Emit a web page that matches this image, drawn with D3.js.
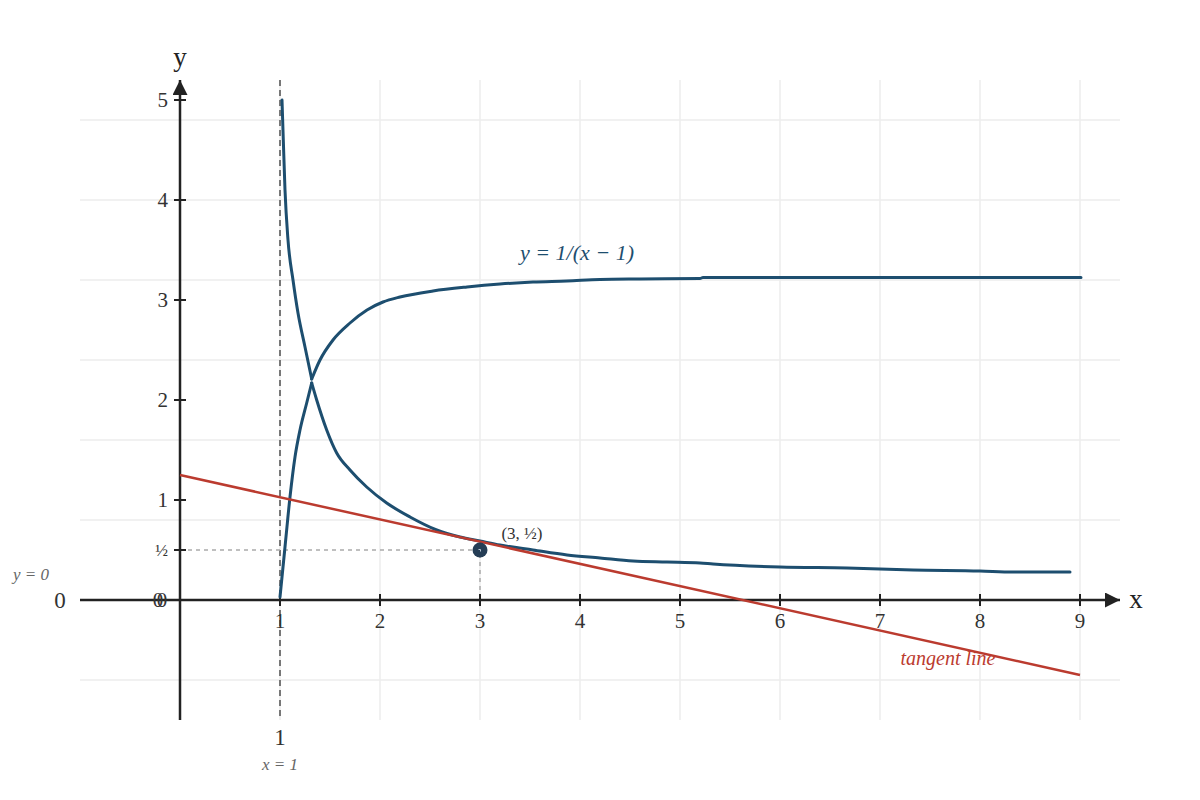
<!DOCTYPE html>
<html>
<head>
<meta charset="utf-8">
<script src="https://cdn.jsdelivr.net/npm/d3@7"></script>
<style>
  body { margin: 0; background: #fff; }
  svg { display: block; font-family: "Liberation Serif", "DejaVu Serif", serif; }
</style>
</head>
<body>
<script>
// Curve: comes down from near the asymptote, then turns up to ~3.22
const upperX = [1.02, 1.033, 1.05, 1.08, 1.13, 1.18, 1.25, 1.317, 1.40, 1.53, 1.70, 1.87, 2.03, 2.20, 2.53, 2.87, 3.20, 3.53, 3.87, 4.20, 4.60, 5.20, 5.23, 9.01];
const upperY = [5.0, 4.6, 4.1, 3.6, 3.2, 2.87, 2.53, 2.21, 2.40, 2.60, 2.77, 2.90, 2.98, 3.03, 3.09, 3.13, 3.16, 3.18, 3.19, 3.205, 3.21, 3.215, 3.225, 3.225];

// Curve that rises from (1, 0) and then decays towards ~0.28
const lowerX = [1.00, 1.05, 1.10, 1.15, 1.20, 1.267, 1.317, 1.367, 1.467, 1.567, 1.70, 1.867, 2.067, 2.30, 2.567, 2.80, 3.00, 3.20, 3.53, 3.87, 4.20, 4.53, 4.87, 5.20, 5.33, 6.00, 6.67, 7.33, 8.00, 8.33, 8.90];
const lowerY = [0.03, 0.53, 1.03, 1.43, 1.70, 1.97, 2.17, 2.00, 1.70, 1.47, 1.30, 1.13, 0.97, 0.83, 0.70, 0.63, 0.59, 0.55, 0.50, 0.45, 0.42, 0.39, 0.38, 0.37, 0.36, 0.33, 0.32, 0.30, 0.29, 0.28, 0.28];

// Tangent line end points
const tangentX = [0, 9];
const tangentY = [1.25, -0.75];

// Marked point
const pointX = 3;
const pointY = 0.5;

// Ticks and grid
const xTicks = [1, 2, 3, 4, 5, 6, 7, 8, 9];
const yTicks = [1, 2, 3, 4, 5];
const yTickLabels = ["1", "2", "3", "4", "5"];
const xGrid = [1, 2, 3, 4, 5, 6, 7, 8, 9];
const yGrid = [4.8, 4.0, 3.2, 2.4, 1.6, 0.8, -0.8];

const width = 1200;
const height = 800;

const svg = d3.select("body").append("svg")
  .attr("width", width)
  .attr("height", height);

const x = d3.scaleLinear().domain([-1, 9.4]).range([80, 1120]);
const y = d3.scaleLinear().domain([-1.2, 5.2]).range([720, 80]);

const blue = "#1d4e6f";
const red = "#bb3b2f";
const ink = "#222";

// Grid
svg.append("g").selectAll("line")
  .data(xGrid).enter().append("line")
  .attr("x1", d => x(d)).attr("x2", d => x(d))
  .attr("y1", y(5.2)).attr("y2", y(-1.2))
  .attr("stroke", "#ececec").attr("stroke-width", 1.5);

svg.append("g").selectAll("line")
  .data(yGrid).enter().append("line")
  .attr("x1", x(-1)).attr("x2", x(9.4))
  .attr("y1", d => y(d)).attr("y2", d => y(d))
  .attr("stroke", "#ececec").attr("stroke-width", 1.5);

// Vertical asymptote x = 1
svg.append("line")
  .attr("x1", x(1)).attr("x2", x(1))
  .attr("y1", y(5.2)).attr("y2", y(-1.2))
  .attr("stroke", "#777").attr("stroke-width", 2)
  .attr("stroke-dasharray", "6,4");

// Guides to the point (3, 1/2)
svg.append("path")
  .attr("d", `M${x(0)},${y(pointY)}H${x(pointX)}V${y(0)}`)
  .attr("fill", "none")
  .attr("stroke", "#aaa").attr("stroke-width", 1.5)
  .attr("stroke-dasharray", "4,4");

// Axes
svg.append("defs").append("marker")
  .attr("id", "arrow")
  .attr("viewBox", "0 0 10 10")
  .attr("refX", 10).attr("refY", 5)
  .attr("markerWidth", 6).attr("markerHeight", 6)
  .attr("markerUnits", "strokeWidth")
  .attr("orient", "auto")
  .append("path").attr("d", "M0,0L10,5L0,10Z").attr("fill", ink);

svg.append("line")
  .attr("x1", x(-1)).attr("x2", x(9.4))
  .attr("y1", y(0)).attr("y2", y(0))
  .attr("stroke", ink).attr("stroke-width", 2.5)
  .attr("marker-end", "url(#arrow)");

svg.append("line")
  .attr("x1", x(0)).attr("x2", x(0))
  .attr("y1", y(-1.2)).attr("y2", y(5.2))
  .attr("stroke", ink).attr("stroke-width", 2.5)
  .attr("marker-end", "url(#arrow)");

// Ticks on the x axis
const xt = svg.append("g").selectAll("g")
  .data(xTicks).enter().append("g")
  .attr("transform", d => `translate(${x(d)},${y(0)})`);
xt.append("line").attr("y1", -6).attr("y2", 6)
  .attr("stroke", ink).attr("stroke-width", 2);
xt.append("text").attr("y", 28)
  .attr("text-anchor", "middle")
  .attr("fill", "#333").style("font-size", "21px")
  .text(d => d);

// Ticks on the y axis
const yt = svg.append("g").selectAll("g")
  .data(yTicks).enter().append("g")
  .attr("transform", d => `translate(${x(0)},${y(d)})`);
yt.append("line").attr("x1", -6).attr("x2", 6)
  .attr("stroke", ink).attr("stroke-width", 2);
yt.append("text").attr("x", -12).attr("dy", "0.35em")
  .attr("text-anchor", "end")
  .attr("fill", "#333").style("font-size", "21px")
  .text((d, i) => yTickLabels[i]);

// Tick for 1/2
svg.append("line")
  .attr("x1", x(0) - 6).attr("x2", x(0) + 6)
  .attr("y1", y(pointY)).attr("y2", y(pointY))
  .attr("stroke", ink).attr("stroke-width", 2);
svg.append("text")
  .attr("x", x(0) - 12).attr("y", y(pointY)).attr("dy", "0.35em")
  .attr("text-anchor", "end")
  .attr("fill", "#333").style("font-size", "17px")
  .text("½");

// Zero labels at the origin (two overlapping, as drawn)
[-22, -18].forEach(dx => {
  svg.append("text")
    .attr("x", x(0) + dx).attr("y", y(0)).attr("dy", "0.35em")
    .attr("text-anchor", "middle")
    .attr("fill", "#333").style("font-size", "21px")
    .text("0");
});

// Axis names
svg.append("text").attr("x", x(0)).attr("y", 66)
  .attr("text-anchor", "middle").attr("fill", "#222")
  .style("font-size", "27px").text("y");
svg.append("text").attr("x", 1136).attr("y", y(0)).attr("dy", "0.3em")
  .attr("text-anchor", "middle").attr("fill", "#222")
  .style("font-size", "27px").text("x");

// Asymptote labels
svg.append("text").attr("x", 60).attr("y", y(0)).attr("dy", "0.35em")
  .attr("text-anchor", "middle").attr("fill", "#333")
  .style("font-size", "23px").text("0");
svg.append("text").attr("x", 31).attr("y", 580)
  .attr("text-anchor", "middle").attr("fill", "#666")
  .style("font-size", "17px").style("font-style", "italic").text("y = 0");
svg.append("text").attr("x", x(1)).attr("y", 745)
  .attr("text-anchor", "middle").attr("fill", "#333")
  .style("font-size", "23px").text("1");
svg.append("text").attr("x", x(1)).attr("y", 770)
  .attr("text-anchor", "middle").attr("fill", "#666")
  .style("font-size", "17px").style("font-style", "italic").text("x = 1");

// Curves: smooth each side of the crossing separately so the cusp stays sharp
const smooth = d3.line().x(d => x(d[0])).y(d => y(d[1])).curve(d3.curveMonotoneX);
const straight = d3.line().x(d => x(d[0])).y(d => y(d[1]));

function drawBranches(xs, ys) {
  const pts = d3.zip(xs, ys);
  const turn = ys.indexOf(ys[0] > ys[ys.length - 1] || ys[0] > 3 ? d3.min(ys.slice(0, 10)) : d3.max(ys.slice(0, 10)));
  [pts.slice(0, turn + 1), pts.slice(turn)].forEach(part => {
    svg.append("path")
      .datum(part)
      .attr("d", smooth)
      .attr("fill", "none").attr("stroke", blue).attr("stroke-width", 3)
      .attr("stroke-linejoin", "round").attr("stroke-linecap", "round");
  });
}

drawBranches(upperX, upperY);
drawBranches(lowerX, lowerY);

// Tangent line
svg.append("path")
  .datum(d3.zip(tangentX, tangentY))
  .attr("d", straight)
  .attr("fill", "none").attr("stroke", red).attr("stroke-width", 2.5);

// Point
svg.append("circle")
  .attr("cx", x(pointX)).attr("cy", y(pointY)).attr("r", 7.5)
  .attr("fill", "#253d55");
svg.append("path")
  .attr("d", `M${x(pointX) - 1.5},${y(pointY) - 0.5}h2v2`)
  .attr("fill", "none").attr("stroke", "#bcc8d4").attr("stroke-width", 1);

// Annotations
svg.append("text").attr("x", 522).attr("y", 539)
  .attr("text-anchor", "middle").attr("fill", "#333")
  .style("font-size", "17px").text("(3, ½)");
svg.append("text").attr("x", 577).attr("y", 260)
  .attr("text-anchor", "middle").attr("fill", blue)
  .style("font-size", "22px").style("font-style", "italic").text("y = 1/(x − 1)");
svg.append("text").attr("x", 948).attr("y", 665)
  .attr("text-anchor", "middle").attr("fill", red)
  .style("font-size", "20px").style("font-style", "italic").text("tangent line");
</script>
</body>
</html>
